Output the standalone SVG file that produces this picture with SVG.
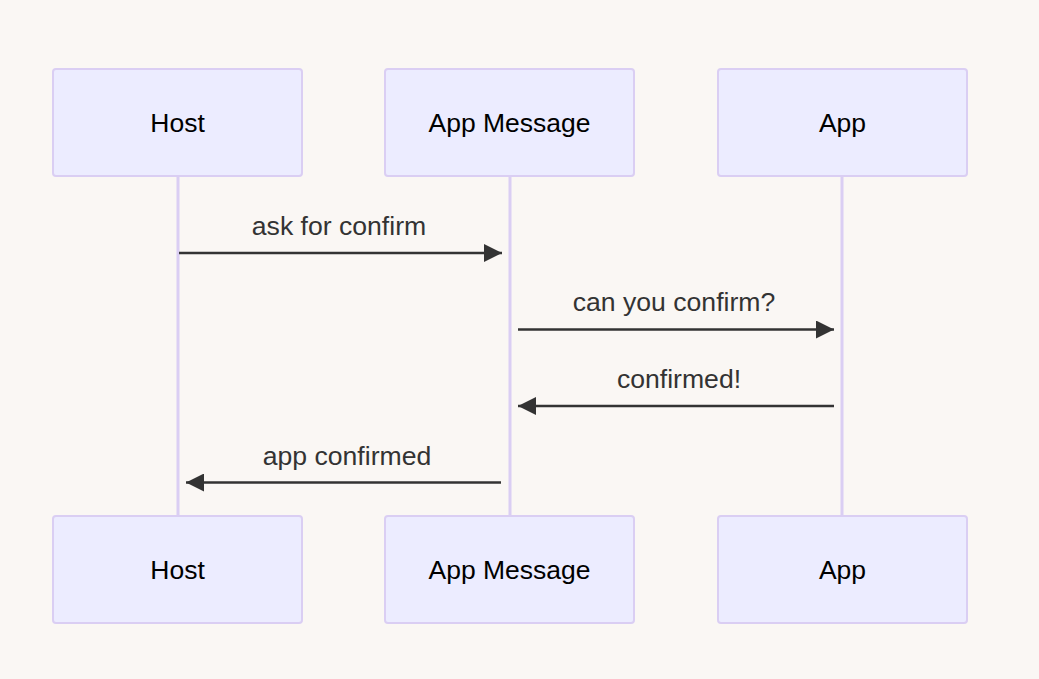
<svg xmlns="http://www.w3.org/2000/svg" width="1039" height="679" viewBox="0 0 1039 679">
<style>
.actor{fill:#ECECFF;stroke:#DACEF3;stroke-width:2}
.atext{font-family:"Liberation Sans",Arial,sans-serif;font-size:26.5px;fill:#000;text-anchor:middle;dominant-baseline:central}
.life{stroke:#DACEF3;stroke-width:3}
.msg{stroke:#333;stroke-width:2.5;fill:none}
.mtext{font-family:"Liberation Sans",Arial,sans-serif;font-size:26.6px;fill:#333;text-anchor:middle;dominant-baseline:central}
</style>
<defs>
<marker id="ah" viewBox="0 0 18 18" refX="18" refY="9" markerWidth="18" markerHeight="18" markerUnits="userSpaceOnUse" orient="auto">
<path d="M0,0 L18,9 L0,18 z" fill="#333"/>
</marker>
</defs>
<rect width="1039" height="679" fill="#FAF7F4"/>
<g id="lifelines">
<line class="life" x1="178" y1="176" x2="178" y2="516"/>
<line class="life" x1="510" y1="176" x2="510" y2="516"/>
<line class="life" x1="842" y1="176" x2="842" y2="516"/>
</g>
<g id="host-top"><rect class="actor" x="53" y="69" width="249" height="107" rx="3"/><text class="atext" x="177.5" y="123">Host</text></g>
<g id="appmsg-top"><rect class="actor" x="385" y="69" width="249" height="107" rx="3"/><text class="atext" x="509.5" y="123">App Message</text></g>
<g id="app-top"><rect class="actor" x="718" y="69" width="249" height="107" rx="3"/><text class="atext" x="842.5" y="123">App</text></g>
<g id="host-bottom"><rect class="actor" x="53" y="516" width="249" height="107" rx="3"/><text class="atext" x="177.5" y="570">Host</text></g>
<g id="appmsg-bottom"><rect class="actor" x="385" y="516" width="249" height="107" rx="3"/><text class="atext" x="509.5" y="570">App Message</text></g>
<g id="app-bottom"><rect class="actor" x="718" y="516" width="249" height="107" rx="3"/><text class="atext" x="842.5" y="570">App</text></g>
<g id="connectors">
<line class="msg" x1="179" y1="253" x2="502" y2="253" marker-end="url(#ah)"/>
<text class="mtext" x="339" y="226">ask for confirm</text>
<line class="msg" x1="518" y1="329.5" x2="834" y2="329.5" marker-end="url(#ah)"/>
<text class="mtext" x="674" y="302">can you confirm?</text>
<line class="msg" x1="834" y1="406" x2="518" y2="406" marker-end="url(#ah)"/>
<text class="mtext" x="679" y="379">confirmed!</text>
<line class="msg" x1="501" y1="482.5" x2="186" y2="482.5" marker-end="url(#ah)"/>
<text class="mtext" x="347" y="456">app confirmed</text>
</g>
</svg>
